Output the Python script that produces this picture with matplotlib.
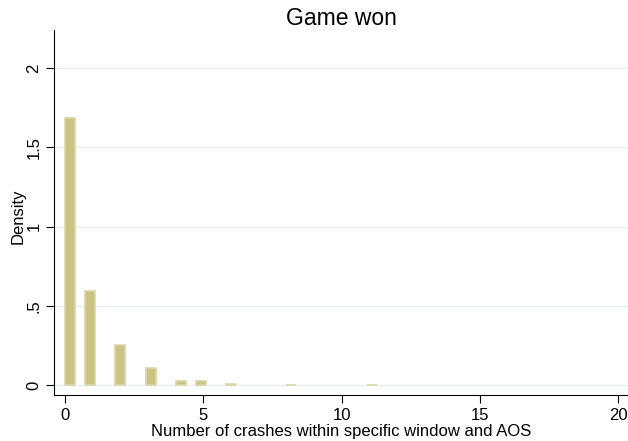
import matplotlib
matplotlib.use("Agg")
import matplotlib.pyplot as plt
import numpy as np

# histogram bins of width 20/55, only the non-empty ones
bin_width = 20 / 55
crash_values = [0, 1, 2, 3, 4, 5, 6, 8, 11]
densities = [1.683, 0.593, 0.252, 0.109, 0.025, 0.025, 0.006, 0.003, 0.003]

yticks = [0, 0.5, 1, 1.5, 2]
ytick_labels = ["0", ".5", "1", "1.5", "2"]
xticks = [0, 5, 10, 15, 20]

plt.rcParams["font.family"] = ["Liberation Sans", "DejaVu Sans"]

fig = plt.figure(figsize=(6.28, 4.41), dpi=100)
ax = fig.add_axes([0.086, 0.104, 0.914, 0.828])

lefts = [np.floor(v / bin_width) * bin_width for v in crash_values]
ax.bar(lefts, densities, width=bin_width, align="edge",
       color="#cbc382", edgecolor="#dcd6a4", linewidth=1.2, zorder=3)

ax.set_xlim(-0.4, 20.35)
ax.set_ylim(-0.063, 2.24)
ax.set_yticks(yticks)
ax.set_yticklabels(ytick_labels, rotation=90, va="center")
ax.set_xticks(xticks)
ax.tick_params(labelsize=12, length=6, color="#000000", width=0.8, pad=3)
ax.grid(axis="y", color="#e6eef0", linewidth=1, zorder=0)

for side in ["top", "right"]:
    ax.spines[side].set_visible(False)
for side in ["left", "bottom"]:
    ax.spines[side].set_linewidth(0.8)

ax.set_xlabel("Number of crashes within specific window and AOS", fontsize=12, labelpad=1)
ax.set_ylabel("Density", fontsize=12)
ax.yaxis.set_label_coords(-0.049, 0.49)
ax.set_title("Game won", fontsize=16.5, pad=0)

fig.savefig("out.png", dpi=100)
